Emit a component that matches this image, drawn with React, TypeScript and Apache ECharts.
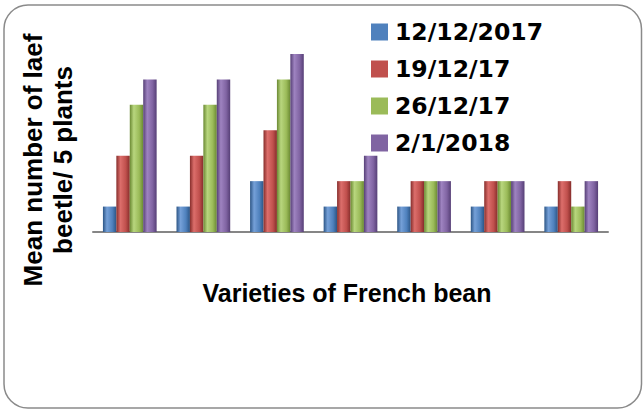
import React, { useEffect, useRef } from "react";
import * as echarts from "echarts";

const categories = ["V1", "V2", "V3", "V4", "V5", "V6", "V7"];
const seriesNames = ["12/12/2017", "19/12/17", "26/12/17", "2/1/2018"];
const s1 = [1, 1, 2, 1, 1, 1, 1];
const s2 = [3, 3, 4, 2, 2, 2, 2];
const s3 = [5, 5, 6, 2, 2, 2, 1];
const s4 = [6, 6, 7, 3, 2, 2, 2];
const seriesValues = [s1, s2, s3, s4];

const baseColors = ["#4F81BD", "#C0504D", "#9BBB59", "#8064A2"];
const darkColors = ["#2C5585", "#862D2B", "#6A8932", "#563F76"];
const lightColors = ["#75A0D8", "#DC6E6B", "#B8D67E", "#9E83C0"];

export default function App() {
  const ref = useRef<HTMLDivElement>(null);
  useEffect(() => {
    if (!ref.current) return;
    const chart = echarts.init(ref.current, undefined, { renderer: "svg" });
    const font = "'Liberation Sans', Arial, sans-serif";
    chart.setOption({
      animation: false,
      backgroundColor: "#ffffff",
      grid: { left: 93, right: 35, top: 54, bottom: 178 },
      legend: {
        orient: "vertical",
        left: 371,
        top: 20,
        padding: 0,
        itemWidth: 17,
        itemHeight: 17,
        itemGap: 13,
        icon: "rect",
        data: seriesNames.map((n, i) => ({ name: n, itemStyle: { color: baseColors[i] } })),
        textStyle: {
          fontFamily: "'DejaVu Sans', sans-serif",
          fontWeight: "bold",
          fontSize: 23.5,
          lineHeight: 24,
          color: "#000",
          padding: [0, 0, 0, 2],
        },
      },
      xAxis: {
        type: "category",
        data: categories,
        axisLine: { show: true, lineStyle: { color: "#868686", width: 2 } },
        axisTick: { show: false },
        axisLabel: { show: false },
      },
      yAxis: {
        type: "value",
        min: 0,
        max: 7,
        interval: 1,
        show: false,
        splitLine: { show: false },
      },
      series: seriesValues.map((vals, i) => ({
        name: seriesNames[i],
        type: "bar",
        data: vals,
        barGap: "0%",
        barCategoryGap: "27%",
        itemStyle: {
          color: new echarts.graphic.LinearGradient(0, 0, 1, 0, [
            { offset: 0, color: darkColors[i] },
            { offset: 0.3, color: lightColors[i] },
            { offset: 0.7, color: baseColors[i] },
            { offset: 1, color: darkColors[i] },
          ]),
        },
      })),
      graphic: [
        {
          type: "rect",
          shape: { x: 4, y: 5, width: 637.5, height: 403, r: 24 },
          style: { fill: "none", stroke: "#8a8a8a", lineWidth: 1.5 },
          silent: true,
        },
        {
          type: "text",
          x: 48,
          y: 160,
          rotation: Math.PI / 2,
          style: {
            text: "Mean number of laef\nbeetle/ 5 plants",
            font: `bold 26px ${font}`,
            fill: "#000",
            align: "center",
            verticalAlign: "middle",
            lineHeight: 30,
          },
        },
        {
          type: "text",
          x: 347,
          y: 293,
          style: {
            text: "Varieties of French bean",
            font: `bold 25px ${font}`,
            fill: "#000",
            align: "center",
            verticalAlign: "middle",
          },
        },
      ],
    });
    return () => chart.dispose();
  }, []);
  return (
    <div
      ref={ref}
      style={{ position: "absolute", left: 0, top: 0, width: 643, height: 410 }}
    />
  );
}
